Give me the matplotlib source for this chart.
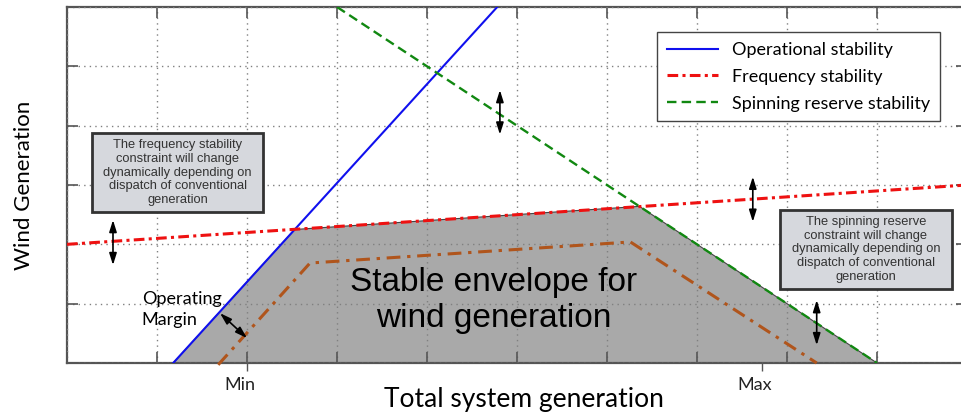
import matplotlib
matplotlib.use('Agg')
import matplotlib.pyplot as plt
import matplotlib.transforms as mtransforms
from matplotlib.patches import Rectangle

# data (x: 0..10 grid units, y: 0..6 grid units)
op_x, op_y = [1.18, 4.78], [0.0, 6.0]            # operational stability
freq_x, freq_y = [0.0, 10.0], [2.0, 3.0]          # frequency stability
spin_x, spin_y = [3.0, 9.0], [6.0, 0.0]           # spinning reserve stability
env_x = [1.18, 2.53, 6.36, 9.0]                   # stable envelope
env_y = [0.0, 2.25, 2.64, 0.0]
margin_x = [1.68, 2.70, 6.26, 8.33]               # operating margin line
margin_y = [-0.03, 1.685, 2.04, 0.0]
tick_pos = [2.0, 7.72]
tick_labels = ['Min', 'Max']

calibri = ['Lato', 'DejaVu Sans']
arial = ['Liberation Sans', 'DejaVu Sans']
narrow = ['Liberation Sans Narrow', 'Liberation Sans', 'DejaVu Sans']

fig = plt.figure(figsize=(9.61, 4.17), dpi=100)
ax = fig.add_axes([67 / 961, 54 / 417, 900 / 961, 356 / 417])
ax.set_xlim(0, 10)
ax.set_ylim(0, 6)

# envelope + lines
ax.fill(env_x, env_y, facecolor='#a9a9a9', edgecolor='#444444', lw=0.8, zorder=1)
ax.plot(margin_x, margin_y, color='#b0551c', lw=2.2, dashes=(4.5, 2.2, 1.1, 2.2), zorder=3, clip_on=False)
ax.plot(op_x, op_y, color='#1010ee', lw=1.5, label='Operational stability', zorder=4)
ax.plot(freq_x, freq_y, color='#ee1111', lw=2.2, dashes=(3.5, 1.4, 1.0, 1.4), label='Frequency stability', zorder=4)
ax.plot(spin_x, spin_y, color='#118811', lw=1.7, dashes=(4.0, 2.2), label='Spinning reserve stability', zorder=4)

# grid & ticks
ax.set_xticks(range(0, 11))
ax.set_yticks(range(0, 7))
ax.set_axisbelow(False)
ax.grid(True, ls=(0, (1, 3)), color='#808080', lw=1)
ax.tick_params(which='major', direction='in', length=8, width=1.2, color='#555555',
               top=True, right=True, labelbottom=False, labelleft=False)
ax.xaxis.remove_overlapping_locs = False
ax.set_xticks(tick_pos, minor=True)
ax.set_xticklabels(tick_labels, minor=True, fontsize=13, family=calibri, color='#222222')
ax.tick_params(which='minor', direction='out', length=6, width=1, color='#555555', pad=4)
shift = mtransforms.ScaledTranslation(-7 / 100, 0, fig.dpi_scale_trans)
for lab in ax.get_xticklabels(minor=True):
    lab.set_transform(lab.get_transform() + shift)
for sp in ax.spines.values():
    sp.set_color('#555555')
    sp.set_linewidth(1.6)

ax.set_xlabel('Total system generation', fontsize=19, family=calibri)
ax.xaxis.set_label_coords(0.508, -0.068)
ax.set_ylabel('Wind Generation', fontsize=16, family=calibri)
ax.yaxis.set_label_coords(-0.037, 0.5)

leg = ax.legend(loc='upper left', bbox_to_anchor=(0.656, 0.93), borderaxespad=0,
                prop={'family': calibri, 'size': 13}, handlelength=2.8, labelspacing=0.6,
                borderpad=0.55, fancybox=False, framealpha=1, edgecolor='#444444')
leg.get_frame().set_linewidth(1)

# centre text
ax.text(4.74, 1.06, 'Stable envelope for\nwind generation', ha='center', va='center',
        fontsize=24, family=arial, linespacing=1.2, zorder=5)
ax.text(0.83, 0.90, 'Operating\nMargin', ha='left', va='center', fontsize=13,
        family=calibri, linespacing=1.35, zorder=5)

# note boxes
notes = [
    ((0.0278, 0.424), 0.19, 0.222,
     'The frequency stability\nconstraint will change\ndynamically depending on\ndispatch of conventional\ngeneration'),
    ((0.792, 0.208), 0.191, 0.222,
     'The spinning reserve\nconstraint will change\ndynamically depending on\ndispatch of conventional\ngeneration'),
]
for (x0, y0), w, h, txt in notes:
    ax.add_patch(Rectangle((x0, y0), w, h, transform=ax.transAxes, facecolor='#d6d8dd',
                           edgecolor='#333333', lw=2, zorder=6))
    ax.text(x0 + w / 2, y0 + h / 2, txt, transform=ax.transAxes, ha='center', va='center',
            fontsize=9.3, family=narrow, color='#333333', linespacing=1.2, zorder=7)

# double arrows
arrows = [((0.511, 2.41), (0.511, 1.65)),
          ((4.81, 4.60), (4.81, 3.85)),
          ((7.62, 3.14), (7.62, 2.38)),
          ((8.33, 1.06), (8.33, 0.30)),
          ((1.70, 0.84), (2.00, 0.42))]
for a, b in arrows:
    ax.annotate('', xy=a, xytext=b, zorder=8,
                arrowprops=dict(arrowstyle='<|-|>,head_width=0.22,head_length=0.7',
                                color='black', lw=1.2, shrinkA=0, shrinkB=0))

fig.savefig('out.png', dpi=100)
